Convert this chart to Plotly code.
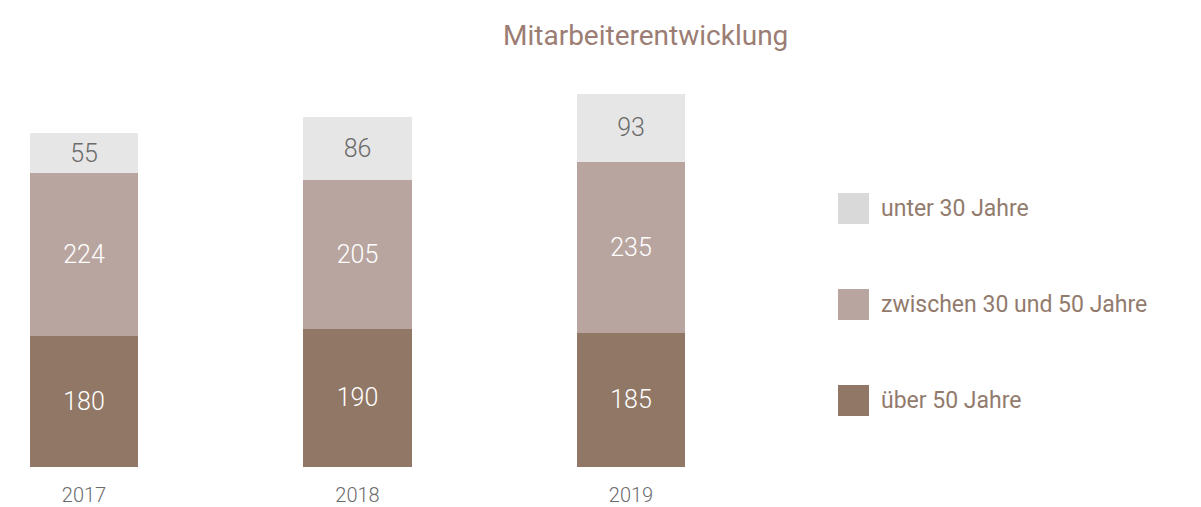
import plotly.graph_objects as go

years = ["2017", "2018", "2019"]
series_names = ["über 50 Jahre", "zwischen 30 und 50 Jahre", "unter 30 Jahre"]
over50 = [180, 190, 185]
between30_50 = [224, 205, 235]
under30 = [55, 86, 93]
title_text = "Mitarbeiterentwicklung"

bar_colors = ["#917866", "#b9a59f", "#e6e6e6"]
legend_colors = ["#917866", "#b9a59f", "#d9d9d9"]
label_colors = ["#ffffff", "#ffffff", "#6b6b6b"]
values = [over50, between30_50, under30]

OFF = 8  # page body margin
W, H = 1201 - OFF, 507 - OFF
mb = 40
bottom_px = 467 - OFF          # bar base in figure pixels
mt = 52
plot_h = H - mt - mb

font_family = "Roboto, 'Liberation Sans', Arial, sans-serif"

fig = go.Figure()
for name, vals, col, lcol in zip(series_names, values, bar_colors, label_colors):
    fig.add_trace(go.Bar(
        x=years, y=vals, name=name,
        marker=dict(color=col, line=dict(width=0)),
        width=0.395,
        text=[str(v) for v in vals],
        textposition="inside",
        insidetextanchor="middle",
        textangle=0,
        constraintext="none",
        textfont=dict(size=25, color=lcol, family=font_family, weight=300),
        hoverinfo="skip",
        showlegend=False,
    ))

def px(xref_px):
    return (xref_px - OFF) / W

def py(yref_px):
    return (bottom_px - (yref_px - OFF)) / plot_h

annotations = [dict(
    text=title_text, x=px(790), y=py(35), xref="paper", yref="paper",
    xanchor="right", yanchor="middle", showarrow=False,
    font=dict(size=28, color="#9b7d74", family=font_family),
)]
shapes = []
legend_y = [208.5, 304.5, 400.5]
legend_order = [2, 1, 0]
for ly, idx in zip(legend_y, legend_order):
    shapes.append(dict(
        type="rect", xref="paper", yref="paper",
        x0=px(838), x1=px(869), y0=py(ly + 15.5), y1=py(ly - 15.5),
        fillcolor=legend_colors[idx], line=dict(width=0),
    ))
    annotations.append(dict(
        text=series_names[idx], x=px(879), y=py(ly), xref="paper", yref="paper",
        xanchor="left", yanchor="middle", showarrow=False,
        font=dict(size=23, color="#927b6d", family=font_family),
    ))

spacing = 273.5
x0 = -(84 - OFF) / spacing
dom_end = 0.65
x1 = x0 + dom_end * W / spacing

fig.update_layout(
    width=W, height=H,
    margin=dict(l=0, r=0, t=mt, b=mb),
    barmode="stack",
    plot_bgcolor="white", paper_bgcolor="white",
    font=dict(family=font_family),
    annotations=annotations,
    shapes=shapes,
    uniformtext=dict(mode=False),
    xaxis=dict(
        domain=[0, dom_end], range=[x0, x1], type="category",
        showgrid=False, zeroline=False, showline=False, ticks="",
        tickfont=dict(size=20, color="#6b6b6b", family=font_family, weight=300),
        ticklabelstandoff=14,
        fixedrange=True,
    ),
    yaxis=dict(
        range=[0, plot_h / 0.727], visible=False, showgrid=False, fixedrange=True,
    ),
)

fig.write_html("out.html")
